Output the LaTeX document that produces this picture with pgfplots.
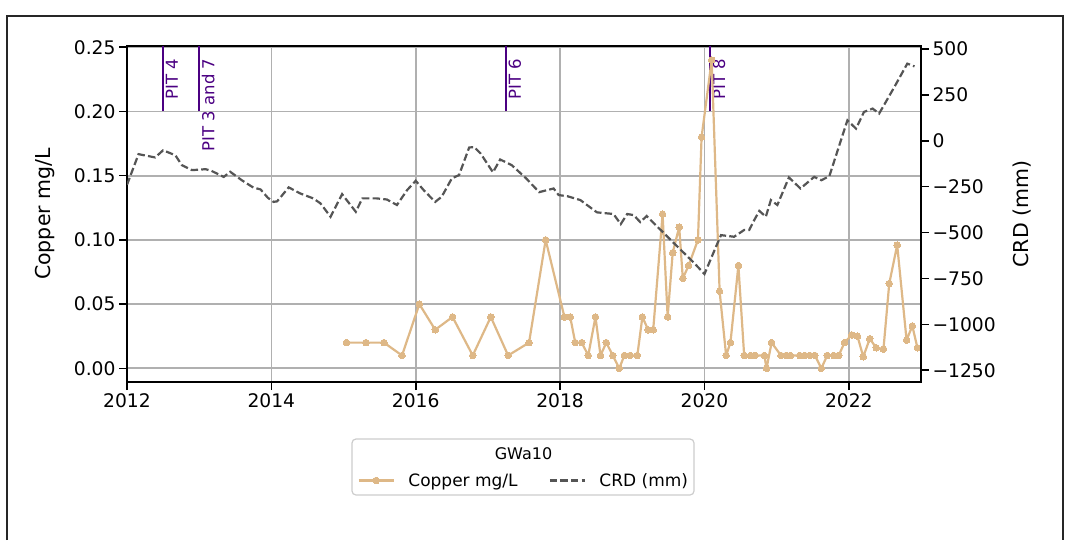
\documentclass[border=0pt]{standalone}
\usepackage{fontspec}
\setmainfont{DejaVu Sans}
\usepackage{pgfplots}
\pgfplotsset{compat=1.18}
\definecolor{cu}{HTML}{DEB887}
\definecolor{crd}{HTML}{555555}
\definecolor{pit}{HTML}{4B0082}
\definecolor{gridc}{HTML}{B0B0B0}
\definecolor{legc}{HTML}{CCCCCC}

\pgfplotsset{
  base/.style={
    at={(127pt,-382pt)}, anchor=south west,
    scale only axis, width=794pt, height=336pt,
    xmin=2012, xmax=2023,
    axis line style={line width=2pt},
    tick style={line width=1.6pt, black},
    major tick length=8pt,
    tick align=outside,
    ticklabel style={font=\fontsize{18.7}{22}\selectfont},
    /pgf/number format/assume math mode=true,
  }
}

\begin{document}
\begin{tikzpicture}
\draw[line width=1.5pt, black!85] (7pt,-540pt) -- (7pt,-16pt) -- (1063pt,-16pt) -- (1063pt,-540pt);

\begin{axis}[base,
  ymin=-0.01067, ymax=0.251,
  xtick={2012,2014,2016,2018,2020,2022},
  xticklabels={2012,2014,2016,2018,2020,2022},
  ytick={0,0.05,0.10,0.15,0.20,0.25},
  yticklabels={0.00,0.05,0.10,0.15,0.20,0.25},
  xtick pos=bottom, ytick pos=left,
  grid=major, grid style={gridc, line width=1.7pt},
  every axis y label/.style={at={(axis description cs:-0.1033,0.5)}, rotate=90, anchor=center, font=\fontsize{20.5}{24}\selectfont},
  ylabel={Copper mg/L},
  legend style={at={(axis description cs:0.4985,-0.293)}, anchor=center, draw=none, fill=none,
    font=\fontsize{17}{20}\selectfont, nodes={inner xsep=0pt},
    /tikz/every odd column/.append style={column sep=13.6pt},
    /tikz/every even column/.append style={column sep=31pt}},
  legend columns=2,
  legend image code/.code={\draw[mark repeat=2,mark phase=2,#1] plot coordinates {(0pt,0pt) (17.5pt,0pt) (35pt,0pt)};},
]
\addplot[pit, line width=2pt, forget plot] coordinates {(2012.5,0.2) (2012.5,0.26)};
\addplot[pit, line width=2pt, forget plot] coordinates {(2013.0,0.2) (2013.0,0.26)};
\addplot[pit, line width=2pt, forget plot] coordinates {(2017.25,0.2) (2017.25,0.26)};
\addplot[pit, line width=2pt, forget plot] coordinates {(2020.08,0.2) (2020.08,0.26)};
\node[xshift=2.5pt, pit, rotate=90, anchor=north east, inner sep=0pt, font=\fontsize{16.5}{19}\selectfont] at (axis cs:2012.5,0.2413) {PIT 4};
\node[xshift=2.5pt, pit, rotate=90, anchor=north east, inner sep=0pt, font=\fontsize{16.5}{19}\selectfont] at (axis cs:2013.0,0.2413) {PIT 3 and 7};
\node[xshift=2.5pt, pit, rotate=90, anchor=north east, inner sep=0pt, font=\fontsize{16.5}{19}\selectfont] at (axis cs:2017.25,0.2413) {PIT 6};
\node[xshift=2.5pt, pit, rotate=90, anchor=north east, inner sep=0pt, font=\fontsize{16.5}{19}\selectfont] at (axis cs:2020.08,0.2413) {PIT 8};

\addplot[cu, line width=2.2pt, line join=round, mark=*, mark size=3.3pt, mark options={fill=cu, draw=cu, line width=0pt}] coordinates {
(2015.04,0.02) (2015.31,0.02) (2015.56,0.02) (2015.81,0.01) (2016.05,0.05)
(2016.27,0.03) (2016.51,0.04) (2016.79,0.01) (2017.04,0.04) (2017.28,0.01)
(2017.57,0.02) (2017.80,0.10) (2018.06,0.04) (2018.14,0.04) (2018.21,0.02)
(2018.30,0.02) (2018.39,0.01) (2018.49,0.04) (2018.56,0.01) (2018.64,0.02)
(2018.73,0.01) (2018.82,0.00) (2018.89,0.01) (2018.97,0.01) (2019.07,0.01)
(2019.14,0.04) (2019.22,0.03) (2019.29,0.03) (2019.42,0.12) (2019.49,0.04)
(2019.56,0.09) (2019.65,0.11) (2019.70,0.07) (2019.78,0.08) (2019.91,0.10)
(2019.96,0.18) (2020.10,0.24) (2020.21,0.06) (2020.30,0.01) (2020.36,0.02)
(2020.47,0.08) (2020.55,0.01) (2020.64,0.01) (2020.70,0.01) (2020.83,0.01)
(2020.86,0.00) (2020.93,0.02) (2021.06,0.01) (2021.13,0.01) (2021.19,0.01)
(2021.32,0.01) (2021.39,0.01) (2021.46,0.01) (2021.53,0.01) (2021.62,0.00)
(2021.70,0.01) (2021.79,0.01) (2021.86,0.01) (2021.94,0.02) (2022.04,0.026)
(2022.12,0.025) (2022.20,0.009) (2022.29,0.023) (2022.38,0.016) (2022.48,0.015)
(2022.56,0.066) (2022.67,0.096) (2022.80,0.022) (2022.88,0.033) (2022.95,0.016)
};
\addlegendentry{Copper mg/L}
\addlegendimage{crd, line width=2.2pt, dash pattern=on 7.4pt off 3.2pt}
\addlegendentry{CRD (mm)}
\end{axis}

\begin{axis}[base,
  ymin=-1314, ymax=516,
  axis x line=none, axis y line*=right,
  ytick={-1250,-1000,-750,-500,-250,0,250,500},
  yticklabels={−1250,−1000,−750,−500,−250,0,250,500},
  every axis y label/.style={at={(axis description cs:1.1272,0.5)}, rotate=90, anchor=center, font=\fontsize{20.5}{24}\selectfont},
  ylabel={CRD (mm)},
]
\addplot[crd, line width=2.2pt, dash pattern=on 7.4pt off 3.2pt] coordinates {
(2012.00,-240) (2012.16,-73) (2012.39,-91) (2012.50,-52) (2012.67,-79)
(2012.76,-133) (2012.90,-160) (2013.09,-155) (2013.17,-164) (2013.34,-197)
(2013.43,-169) (2013.59,-215) (2013.75,-255) (2013.85,-265) (2013.95,-310)
(2014.03,-333) (2014.08,-330) (2014.24,-254) (2014.40,-287) (2014.58,-314)
(2014.68,-341) (2014.82,-414) (2014.98,-291) (2015.17,-387) (2015.26,-314)
(2015.46,-314) (2015.60,-320) (2015.74,-350) (2015.88,-269) (2016.00,-218)
(2016.11,-269) (2016.27,-333) (2016.36,-305) (2016.50,-205) (2016.60,-187)
(2016.74,-37) (2016.81,-34) (2016.90,-70) (2017.07,-172) (2017.17,-102)
(2017.33,-133) (2017.53,-205) (2017.71,-280) (2017.91,-260) (2017.98,-296)
(2018.10,-302) (2018.28,-323) (2018.51,-390) (2018.74,-399) (2018.84,-454)
(2018.93,-399) (2019.02,-405) (2019.11,-443) (2019.20,-410) (2019.30,-450)
(2019.44,-504) (2019.58,-559) (2019.72,-613) (2019.86,-667) (2020.00,-726)
(2020.16,-577) (2020.23,-514) (2020.41,-523) (2020.55,-486) (2020.62,-486)
(2020.69,-432) (2020.76,-382) (2020.85,-414) (2020.92,-323) (2021.01,-350)
(2021.17,-200) (2021.33,-260) (2021.52,-197) (2021.62,-215) (2021.73,-193)
(2021.98,111) (2022.10,66) (2022.21,157) (2022.33,175) (2022.42,148)
(2022.63,292) (2022.81,420) (2022.91,405)
};
\end{axis}

\draw[legc, line width=1.2pt, rounded corners=4pt] (352pt,-439pt) rectangle (694pt,-495pt);
\node[font=\fontsize{16}{19}\selectfont] at (523.5pt,-454pt) {GWa10};
\path (0pt,0pt) rectangle (1065pt,-540pt);
\end{tikzpicture}
\end{document}
